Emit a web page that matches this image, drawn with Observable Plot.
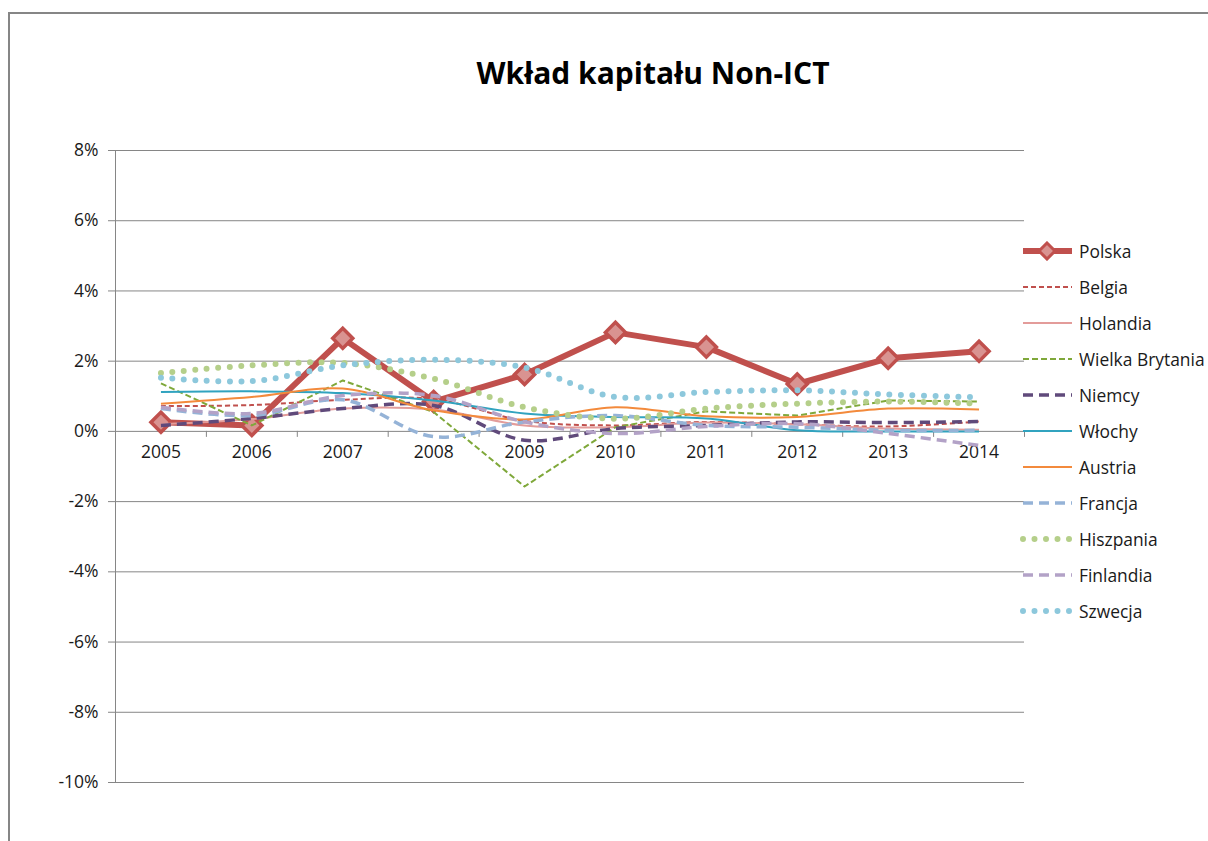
<!DOCTYPE html>
<html>
<head>
<meta charset="utf-8">
<script src="https://cdn.jsdelivr.net/npm/d3@7"></script>
<script src="https://cdn.jsdelivr.net/npm/@observablehq/plot@0.6"></script>
<style>
  html, body { margin:0; padding:0; background:#fff; overflow:hidden; width:1208px; height:841px; }
  #frame { position:absolute; left:8px; top:12px; width:1400px; height:1000px; border-left:2px solid #868686; border-top:2px solid #868686; box-sizing:border-box; }
  #title { position:absolute; left:0; width:1306px; top:52px; text-align:center; font-family:"Open Sans", sans-serif; font-weight:bold; font-size:30px; color:#000; }
  #chart { position:absolute; left:0; top:0; }
  #legend { position:absolute; left:1020px; top:0; font-family:"Open Sans", sans-serif; font-size:17.4px; color:#1a1a1a; }
  .row { position:absolute; left:0; height:20px; display:flex; align-items:center; white-space:nowrap; }
  .row svg { display:block; margin-right:5px; }
</style>
</head>
<body>
<div id="frame"></div>
<div id="title">Wkład kapitału Non-ICT</div>
<div id="chart"></div>
<div id="legend"></div>
<script>
// ---- data ----
const years = [2005, 2006, 2007, 2008, 2009, 2010, 2011, 2012, 2013, 2014];
const countries = ["Polska", "Belgia", "Holandia", "Wielka Brytania", "Niemcy", "Włochy", "Austria", "Francja", "Hiszpania", "Finlandia", "Szwecja"];
const polska    = [0.26, 0.17, 2.65, 0.85, 1.62, 2.82, 2.40, 1.35, 2.08, 2.28];
const belgia    = [0.72, 0.75, 0.90, 0.92, 0.30, 0.17, 0.27, 0.20, 0.14, 0.28];
const holandia  = [0.20, 0.35, 0.65, 0.62, 0.17, 0.12, 0.25, 0.20, 0.08, 0.05];
const wielkaBrytania = [1.37, 0.17, 1.45, 0.55, -1.57, 0.12, 0.57, 0.45, 0.88, 0.85];
const niemcy    = [0.17, 0.37, 0.65, 0.74, -0.25, 0.08, 0.17, 0.27, 0.25, 0.28];
const wlochy    = [1.12, 1.14, 1.09, 0.88, 0.51, 0.41, 0.37, 0.03, 0.00, 0.00];
const austria   = [0.79, 0.98, 1.22, 0.60, 0.34, 0.69, 0.43, 0.41, 0.65, 0.62];
const francja   = [0.65, 0.45, 0.90, -0.15, 0.27, 0.45, 0.17, 0.12, 0.03, 0.03];
const hiszpania = [1.66, 1.88, 1.95, 1.50, 0.69, 0.36, 0.65, 0.79, 0.85, 0.79];
const finlandia = [0.69, 0.51, 1.02, 1.02, 0.27, -0.06, 0.14, 0.22, -0.06, -0.40];
const szwecja   = [1.53, 1.43, 1.88, 2.04, 1.82, 0.98, 1.12, 1.17, 1.05, 0.97];
const yTicks = [-10, -8, -6, -4, -2, 0, 2, 4, 6, 8];

const seriesValues = [polska, belgia, holandia, wielkaBrytania, niemcy, wlochy, austria, francja, hiszpania, finlandia, szwecja];

// ---- styles ----
const styles = {
  "Polska":          {stroke:"#C0504D", width:6,   dash:null,   curve:"linear"},
  "Belgia":          {stroke:"#C0504D", width:2,   dash:"5,3",  curve:"catmull-rom"},
  "Holandia":        {stroke:"#E39C9A", width:2,   dash:null,   curve:"catmull-rom"},
  "Wielka Brytania": {stroke:"#7FA83A", width:2,   dash:"6,3",  curve:"linear"},
  "Niemcy":          {stroke:"#604A7B", width:3.5, dash:"10,6", curve:"catmull-rom"},
  "Włochy":          {stroke:"#31A3BF", width:2,   dash:null,   curve:"catmull-rom"},
  "Austria":         {stroke:"#F38A3C", width:2,   dash:null,   curve:"catmull-rom"},
  "Francja":         {stroke:"#95B3D7", width:3.5, dash:"10,6", curve:"catmull-rom"},
  "Hiszpania":       {stroke:"#B5CF8A", width:6,   dash:"0,11.5", curve:"catmull-rom", cap:"round"},
  "Finlandia":       {stroke:"#B3A2C7", width:3.5, dash:"10,6", curve:"catmull-rom"},
  "Szwecja":         {stroke:"#8DC8DC", width:6,   dash:"0,11.5", curve:"catmull-rom", cap:"round"}
};

const table = [];
countries.forEach((c, i) => years.forEach((y, j) => table.push({country:c, year:y, value:seriesValues[i][j]})));

const diamond = { draw(ctx, size) { const h = Math.sqrt(size / 2); ctx.moveTo(0,-h); ctx.lineTo(h,0); ctx.lineTo(0,h); ctx.lineTo(-h,0); ctx.closePath(); } };

const W = 1030, H = 841, mT = 150, mB = 59, mL = 115, mR = 6;
const pxPerUnit = (H - mT - mB) / 18;
const boundaries = years.map(y => y + 0.5);

const marks = [
  Plot.ruleY(yTicks, {stroke:"#868686", strokeWidth:1}),
  Plot.axisY({ticks:yTicks, tickFormat:d => d + "%", label:null, tickSize:7, tickPadding:10, stroke:"#868686", fontSize:17.5, fill:"#1a1a1a", strokeWidth:1}),
  Plot.ruleX([2004.5], {y1:-10, y2:8, stroke:"#868686"}),
  Plot.ruleX(boundaries, {y1:0, y2:-6 / pxPerUnit, stroke:"#868686"}),
  Plot.text(years, {x:d => d, y:0, dy:21, text:d => String(d), fontSize:17.5, fill:"#1a1a1a"})
];
countries.forEach(c => {
  const s = styles[c];
  marks.push(Plot.line(table.filter(d => d.country === c), {
    x:"year", y:"value", stroke:s.stroke, strokeWidth:s.width,
    strokeDasharray:s.dash || undefined, strokeLinecap:s.cap || "butt", strokeLinejoin:"round", curve:s.curve
  }));
  if (c === "Polska") {
    marks.push(Plot.dot(table.filter(d => d.country === c), {x:"year", y:"value", symbol:diamond, r:8, fill:"#D99391", stroke:"#C0504D", strokeWidth:3.5}));
  }
});

const chart = Plot.plot({
  width:W, height:H, marginTop:mT, marginBottom:mB, marginLeft:mL, marginRight:mR,
  style:{fontFamily:"'Open Sans', sans-serif", fontSize:"17.5px", color:"#1a1a1a", background:"transparent"},
  x:{domain:[2004.5, 2014.5], axis:null},
  y:{domain:[-10, 8], axis:null},
  marks
});
document.getElementById("chart").appendChild(chart);

// ---- legend ----
const legend = document.getElementById("legend");
countries.forEach((c, i) => {
  const s = styles[c];
  const row = document.createElement("div");
  row.className = "row";
  row.style.top = (251 + i * 36 - 10) + "px";
  const ns = "http://www.w3.org/2000/svg";
  const svg = document.createElementNS(ns, "svg");
  svg.setAttribute("width", 54); svg.setAttribute("height", 20);
  const ln = document.createElementNS(ns, "line");
  ln.setAttribute("x1", 3); ln.setAttribute("x2", 52); ln.setAttribute("y1", 10); ln.setAttribute("y2", 10);
  ln.setAttribute("stroke", s.stroke); ln.setAttribute("stroke-width", s.width);
  if (s.dash) ln.setAttribute("stroke-dasharray", s.dash);
  ln.setAttribute("stroke-linecap", s.cap || "butt");
  svg.appendChild(ln);
  if (c === "Polska") {
    const p = document.createElementNS(ns, "path");
    p.setAttribute("d", "M27,2L35,10L27,18L19,10Z");
    p.setAttribute("fill", "#D99391"); p.setAttribute("stroke", "#C0504D"); p.setAttribute("stroke-width", 3);
    svg.appendChild(p);
  }
  row.appendChild(svg);
  const t = document.createElement("span");
  t.textContent = c;
  row.appendChild(t);
  legend.appendChild(row);
});
</script>
</body>
</html>
